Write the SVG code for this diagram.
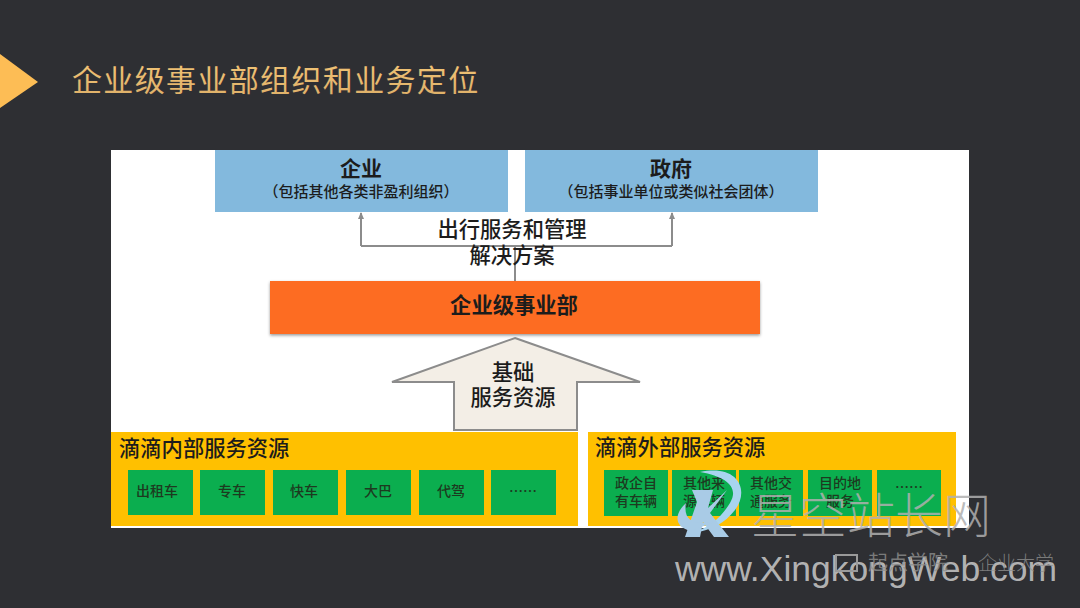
<svg xmlns="http://www.w3.org/2000/svg" width="1080" height="608" viewBox="0 0 1080 608">
<defs>
<linearGradient id="gold" x1="0" y1="0" x2="0" y2="1"><stop offset="0" stop-color="#f5c878"/><stop offset="1" stop-color="#dcae68"/></linearGradient>
<marker id="ah" markerUnits="userSpaceOnUse" markerWidth="8" markerHeight="8" refX="6" refY="4" orient="auto"><path d="M0 1 L7 4 L0 7 Z" fill="#8c8c8c"/></marker>
<filter id="sh" x="-3%" y="-10%" width="106%" height="125%"><feDropShadow dx="0" dy="1.5" stdDeviation="1.5" flood-color="#000" flood-opacity=".4"/></filter>
</defs>
<style>
text{font-family:"Noto Sans CJK SC","Liberation Sans",sans-serif;text-anchor:middle;fill:#1c1c1c}
.b{font-weight:700}
.g{fill:#0bae4f}
.y{fill:#ffc000}
.bl{fill:#83b9dd}
.s{font-size:14px;font-weight:500;fill:#1d3a20}
.h{font-size:21.300px;font-weight:500;text-anchor:start}
.m{font-size:21.300px;font-weight:500}
.wm{fill:#b0b0b0;fill-opacity:.85}
</style>
<rect width="1080" height="608" fill="#2e2f33"/>
<polygon id="title-mark" points="0,54 38,82 0,108" fill="#fdbd55"/>
<text id="title" x="72" y="91" font-size="30" font-weight="400" style="text-anchor:start;fill:url(#gold);letter-spacing:1.35px">企业级事业部组织和业务定位</text>
<rect id="panel" x="111" y="150" width="858" height="378" fill="#fff"/>
<g id="connectors" fill="none" stroke="#8c8c8c" stroke-width="2">
<path d="M515 281V246"/>
<path d="M361 246H672"/>
<path d="M361 246V213" marker-end="url(#ah)"/>
<path d="M672 246V213" marker-end="url(#ah)"/>
</g>
<g id="node-enterprise"><rect class="bl" x="215" y="150" width="293" height="62"/>
<text x="361" y="176" font-size="21" class="b">企业</text>
<text x="361" y="197" font-size="15" font-weight="500">（包括其他各类非盈利组织）</text></g>
<g id="node-government"><rect class="bl" x="525" y="150" width="293" height="62"/>
<text x="671" y="176" font-size="21" class="b">政府</text>
<text x="671" y="197" font-size="15" font-weight="500">（包括事业单位或类似社会团体）</text></g>
<g id="label-solution">
<text class="m" x="512" y="237">出行服务和管理</text>
<text class="m" x="512" y="263">解决方案</text></g>
<g id="node-division"><rect x="270" y="281" width="490" height="53" fill="#fd6c21" filter="url(#sh)"/>
<text class="m b" x="514" y="313" style="font-weight:700">企业级事业部</text></g>
<g id="node-foundation"><polygon points="515,338 640,382 577,382 577,430 454,430 454,382 392,382" fill="#f3eee6" stroke="#8c8c8c" stroke-width="2"/>
<text class="m" x="513" y="380">基础</text>
<text class="m" x="513" y="405">服务资源</text></g>
<g id="node-internal"><rect class="y" x="111" y="432" width="467" height="94"/>
<text class="h" x="119" y="456">滴滴内部服务资源</text>
<rect class="g" x="128" y="470" width="65" height="45"/><text class="s" x="157" y="496">出租车</text>
<rect class="g" x="200" y="470" width="65" height="45"/><text class="s" x="232" y="496">专车</text>
<rect class="g" x="273" y="470" width="65" height="45"/><text class="s" x="304" y="496">快车</text>
<rect class="g" x="346" y="470" width="65" height="45"/><text class="s" x="378" y="496">大巴</text>
<rect class="g" x="419" y="470" width="65" height="45"/><text class="s" x="451" y="496">代驾</text>
<rect class="g" x="491" y="470" width="65" height="45"/><text class="s" x="523" y="496">……</text></g>
<g id="node-external"><rect class="y" x="588" y="432" width="368" height="94"/>
<text class="h" x="595" y="455">滴滴外部服务资源</text>
<rect class="g" x="604" y="470" width="64" height="46"/><text class="s" x="636" y="488">政企自</text><text class="s" x="636" y="506">有车辆</text>
<rect class="g" x="672" y="470" width="64" height="46"/><text class="s" x="704" y="488">其他来</text><text class="s" x="704" y="506">源车辆</text>
<rect class="g" x="739" y="470" width="64" height="46"/><text class="s" x="771" y="488">其他交</text><text class="s" x="771" y="506">通服务</text>
<rect class="g" x="808" y="470" width="64" height="46"/><text class="s" x="840" y="488">目的地</text><text class="s" x="840" y="506">服务</text>
<rect class="g" x="877" y="470" width="64" height="46"/><text class="s" x="909" y="492">……</text></g>
<g id="watermark">
<path d="M700 472C738 464 750 490 735 510C725 523 712 530 693 533C712 526 722 516 730 503C739 488 728 477 700 472Z" fill="#a8d4ef"/>
<path d="M692 490L697 502L685 537H700L703 522L714 537H729L710 513L727 490L708 508L713 490Z" fill="#a9cbe6"/>
<path d="M686 503C675 513 673 526 690 531L720 520C700 526 682 524 686 503Z" fill="#a9cbe6"/>
<text class="wm" x="871" y="533" font-size="48" style="font-weight:300">星空站长网</text>
<text x="866" y="581" font-size="35.500" style="font-family:'Liberation Sans',sans-serif;fill:#c4c4c4;fill-opacity:.9">www.XingkongWeb.com</text>
<rect x="836" y="555" width="21" height="16" fill="none" stroke="#9a9a9a" stroke-width="2"/>
<text x="908" y="570" font-size="20" style="fill:#8f8f8f;fill-opacity:.8">起点学院</text>
<text x="1016" y="570" font-size="19" font-weight="300" style="fill:#8f8f8f;fill-opacity:.8">企业大学</text>
</g>
</svg>
